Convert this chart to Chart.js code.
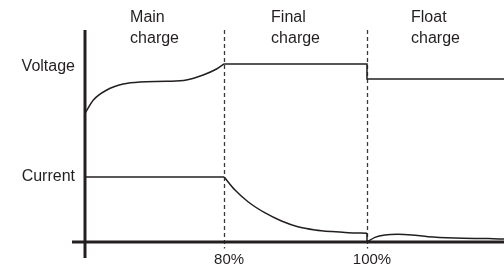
<!DOCTYPE html>
<html><head><meta charset="utf-8">
<script src="https://cdn.jsdelivr.net/npm/chart.js@4.4.1/dist/chart.umd.min.js"></script>
<style>html,body{margin:0;padding:0;background:#fff;}#wrap{width:504px;height:268px;position:relative;}</style>
</head><body><div id="wrap"><canvas id="c"></canvas></div>
<script>
// ---- labels ----
const phaseLabels = [['Main', 'charge'], ['Final', 'charge'], ['Float', 'charge']];
const phaseBounds = [0, 33.2, 67.3, 100];      // time axis (arbitrary units)
const xTickValues = [33.2, 67.3];
const xTickLabels = ['80%', '100%'];
const yTickValues = [82.7, 30.8];
const yTickLabels = ['Voltage', 'Current'];

// ---- voltage ----
const voltMainT = [0, 2.0, 5.2, 9.1, 13.1, 19.5, 24.2, 28.2, 31.4, 33.2];
const voltMainV = [60.7, 67.0, 71.7, 74.5, 75.5, 75.8, 76.4, 78.8, 81.6, 84.0];
const voltHoldT = [33.2, 67.3, 67.3, 100];
const voltHoldV = [84.0, 84.0, 76.9, 76.9];

// ---- current ----
const currConstT = [0, 33.2];
const currConstV = [30.7, 30.7];
const currTaperT = [33.2, 35.8, 38.9, 43.0, 46.9, 50.8, 54.9, 58.9, 62.8, 67.3];
const currTaperV = [30.7, 24.5, 19.0, 13.7, 9.9, 7.2, 5.7, 4.9, 4.4, 4.1];
const currDropT = [67.3, 67.3];
const currDropV = [4.1, 0];
const currFloatT = [67.3, 69.2, 71.6, 74.7, 78.0, 81.9, 88.3, 96.2, 100];
const currFloatV = [0, 2.2, 3.3, 3.6, 3.3, 2.5, 1.9, 1.6, 1.4];

const INK = '#231f20';
const FONT = '"Liberation Sans", Arial, sans-serif';
const pts = (t, v) => t.map((x, i) => ({x: x, y: v[i]}));
const ds = (t, v, curved) => ({
  data: pts(t, v), borderColor: INK, borderWidth: 1.5, pointRadius: 0,
  tension: curved ? 0.4 : 0, cubicInterpolationMode: curved ? 'monotone' : 'default', fill: false
});

const overlay = {
  id: 'overlay',
  beforeDatasetsDraw(chart) {
    const {ctx, chartArea, scales: {x}} = chart;
    ctx.save();
    ctx.strokeStyle = '#3a3a3a'; ctx.lineWidth = 1.3; ctx.setLineDash([4, 3]);
    xTickValues.forEach(v => {
      const px = Math.round(x.getPixelForValue(v)) + 0.5;
      ctx.beginPath(); ctx.moveTo(px, chartArea.top); ctx.lineTo(px, chartArea.bottom + 6.5); ctx.stroke();
    });
    ctx.restore();
  },
  afterDatasetsDraw(chart) {
    const {ctx, chartArea, scales: {x, y}} = chart;
    const x0 = x.getPixelForValue(0), y0 = y.getPixelForValue(0);
    ctx.save();
    ctx.strokeStyle = INK; ctx.lineWidth = 3; ctx.setLineDash([]);
    ctx.beginPath(); ctx.moveTo(x0, chartArea.top); ctx.lineTo(x0, y0 + 16); ctx.stroke();
    ctx.beginPath(); ctx.moveTo(x0 - 13, y0); ctx.lineTo(chartArea.right, y0); ctx.stroke();
    // phase labels
    ctx.fillStyle = INK; ctx.font = '16px ' + FONT; ctx.textAlign = 'left'; ctx.textBaseline = 'alphabetic';
    phaseLabels.forEach((lines, i) => {
      const mid = (x.getPixelForValue(phaseBounds[i]) + x.getPixelForValue(phaseBounds[i + 1])) / 2;
      const w = Math.max(...lines.map(l => ctx.measureText(l).width));
      const left = mid - w / 2;
      ctx.fillText(lines[0], left, chartArea.top - 8.3);
      ctx.fillText(lines[1], left, chartArea.top + 13.3);
    });
    ctx.restore();
  }
};

new Chart(document.getElementById('c'), {
  type: 'line',
  data: {
    datasets: [
      ds(voltMainT, voltMainV, true),
      ds(voltHoldT, voltHoldV, false),
      ds(currConstT, currConstV, false),
      ds(currTaperT, currTaperV, true),
      ds(currDropT, currDropV, false),
      ds(currFloatT, currFloatV, true)
    ]
  },
  options: {
    responsive: true, maintainAspectRatio: false, animation: false, devicePixelRatio: 1,
    layout: {padding: {top: 30, left: 0, right: 0, bottom: 0}},
    plugins: {legend: {display: false}, tooltip: {enabled: false}},
    scales: {
      x: {
        type: 'linear', min: 0, max: 100,
        grid: {display: false, drawTicks: false}, border: {display: false},
        afterBuildTicks: s => { s.ticks = xTickValues.map(v => ({value: v})); },
        afterFit: s => { s.height = 26; },
        ticks: {
          autoSkip: false, maxRotation: 0, padding: 8.5, labelOffset: 5,
          color: INK, font: {family: FONT, size: 15},
          callback: (v, i) => xTickLabels[i]
        }
      },
      y: {
        type: 'linear', min: 0, max: 100,
        grid: {display: false, drawTicks: false}, border: {display: false},
        afterBuildTicks: s => { s.ticks = yTickValues.map(v => ({value: v})); },
        afterFit: s => { s.width = 85; },
        ticks: {
          autoSkip: false, padding: 10,
          color: INK, font: {family: FONT, size: 16},
          callback: (v, i) => yTickLabels[i]
        }
      }
    }
  },
  plugins: [overlay]
});
</script>
</body></html>
